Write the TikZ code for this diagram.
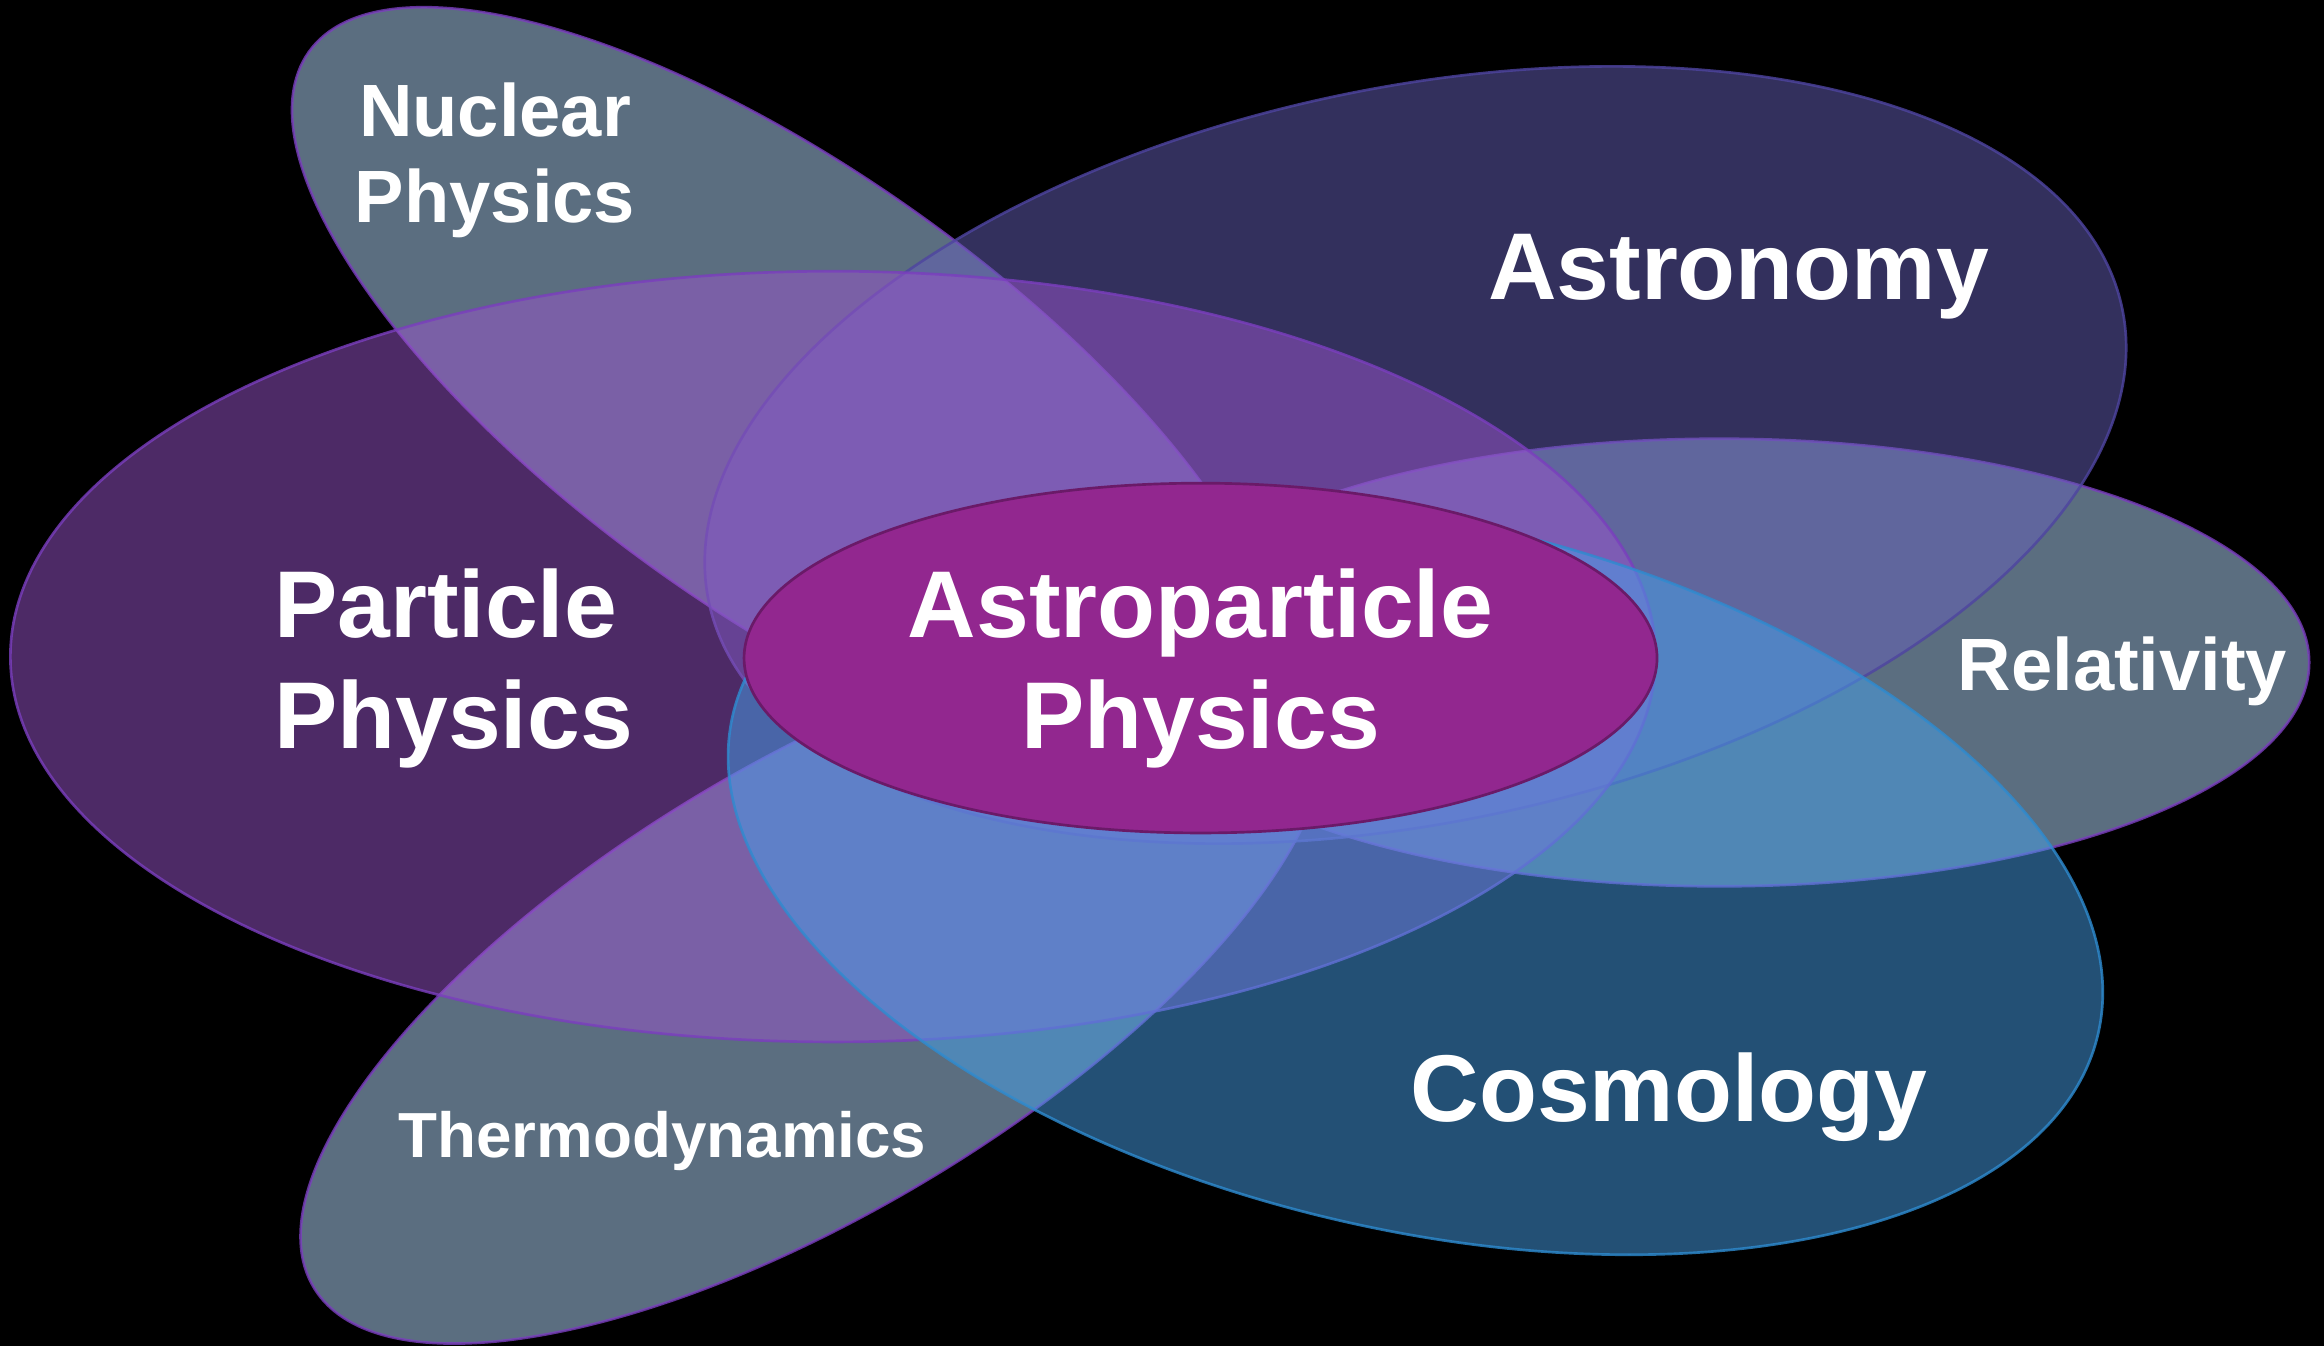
\documentclass[tikz,border=0pt]{standalone}
\usepackage{fontspec}
\setmainfont{Liberation Sans}
\usetikzlibrary{shapes.geometric}
\definecolor{gfill}{HTML}{B6DCFF}
\definecolor{pfill}{HTML}{9A54CC}
\definecolor{afill}{HTML}{6660BA}
\definecolor{cfill}{HTML}{46A0EA}
\definecolor{mfill}{HTML}{92278F}
\definecolor{pline}{HTML}{7A3EBE}
\definecolor{aline}{HTML}{4E44A0}
\definecolor{cline}{HTML}{2E8BD0}
\definecolor{mline}{HTML}{6A1A68}
\begin{document}
\begin{tikzpicture}[x=0.5pt,y=-0.5pt,
  blob/.style={ellipse, inner sep=0pt, outer sep=0pt, line width=0.9pt,
    fill opacity=0.5, draw opacity=0.8},
  lbl/.style={text=white, font=\bfseries, inner sep=0pt, align=center},
]
\fill[black] (0,0) rectangle (1568,908);
\useasboundingbox (0,0) rectangle (1568,908);

% ellipses (semi-axes a,b in px -> minimum width = a pt)
\node[blob, fill=gfill, draw=pline, minimum width=397pt, minimum height=149pt, rotate=-35.4] (nuc) at (532,265) {};
\node[blob, fill=gfill, draw=pline, minimum width=393.5pt, minimum height=151pt, rotate=31] (thermo) at (549,666) {};
\node[blob, fill=gfill, draw=pline, minimum width=398pt, minimum height=151pt] (rel) at (1160,447) {};
\node[blob, fill=afill, draw=aline, minimum width=487pt, minimum height=248pt, rotate=11.7] (astro) at (955,307) {};
\node[blob, fill=pfill, draw=pline, minimum width=555pt, minimum height=260pt] (part) at (562,443) {};
\node[blob, fill=cfill, draw=cline, minimum width=473pt, minimum height=239pt, rotate=-13.2] (cosmo) at (955,590) {};
\node[ellipse, inner sep=0pt, outer sep=0pt, line width=0.9pt, fill=mfill, draw=mline,
  minimum width=308pt, minimum height=118pt] (center) at (810,444) {};

% labels
\node[lbl, font=\bfseries\fontsize{25pt}{29pt}\selectfont] (tnuc) at (334,108) {Nuclear\\Physics};
\node[lbl, font=\bfseries\fontsize{32pt}{37.5pt}\selectfont, align=left] (tpart) at (306,451) {Particle\\Physics};
\node[lbl, font=\bfseries\fontsize{32pt}{37.5pt}\selectfont] (tcenter) at (810,451) {Astroparticle\\Physics};
\node[lbl, font=\bfseries\fontsize{32pt}{37.5pt}\selectfont, anchor=base] (tastro) at (1173,202) {Astronomy};
\node[lbl, font=\bfseries\fontsize{32pt}{37.5pt}\selectfont, anchor=base] (tcosmo) at (1126,757) {Cosmology};
\node[lbl, font=\bfseries\fontsize{25pt}{29pt}\selectfont, anchor=base] (trel) at (1432,466) {Relativity};
\node[lbl, font=\bfseries\fontsize{21.5pt}{25pt}\selectfont, anchor=base] (tthermo) at (447,781) {Thermodynamics};
\end{tikzpicture}
\end{document}
